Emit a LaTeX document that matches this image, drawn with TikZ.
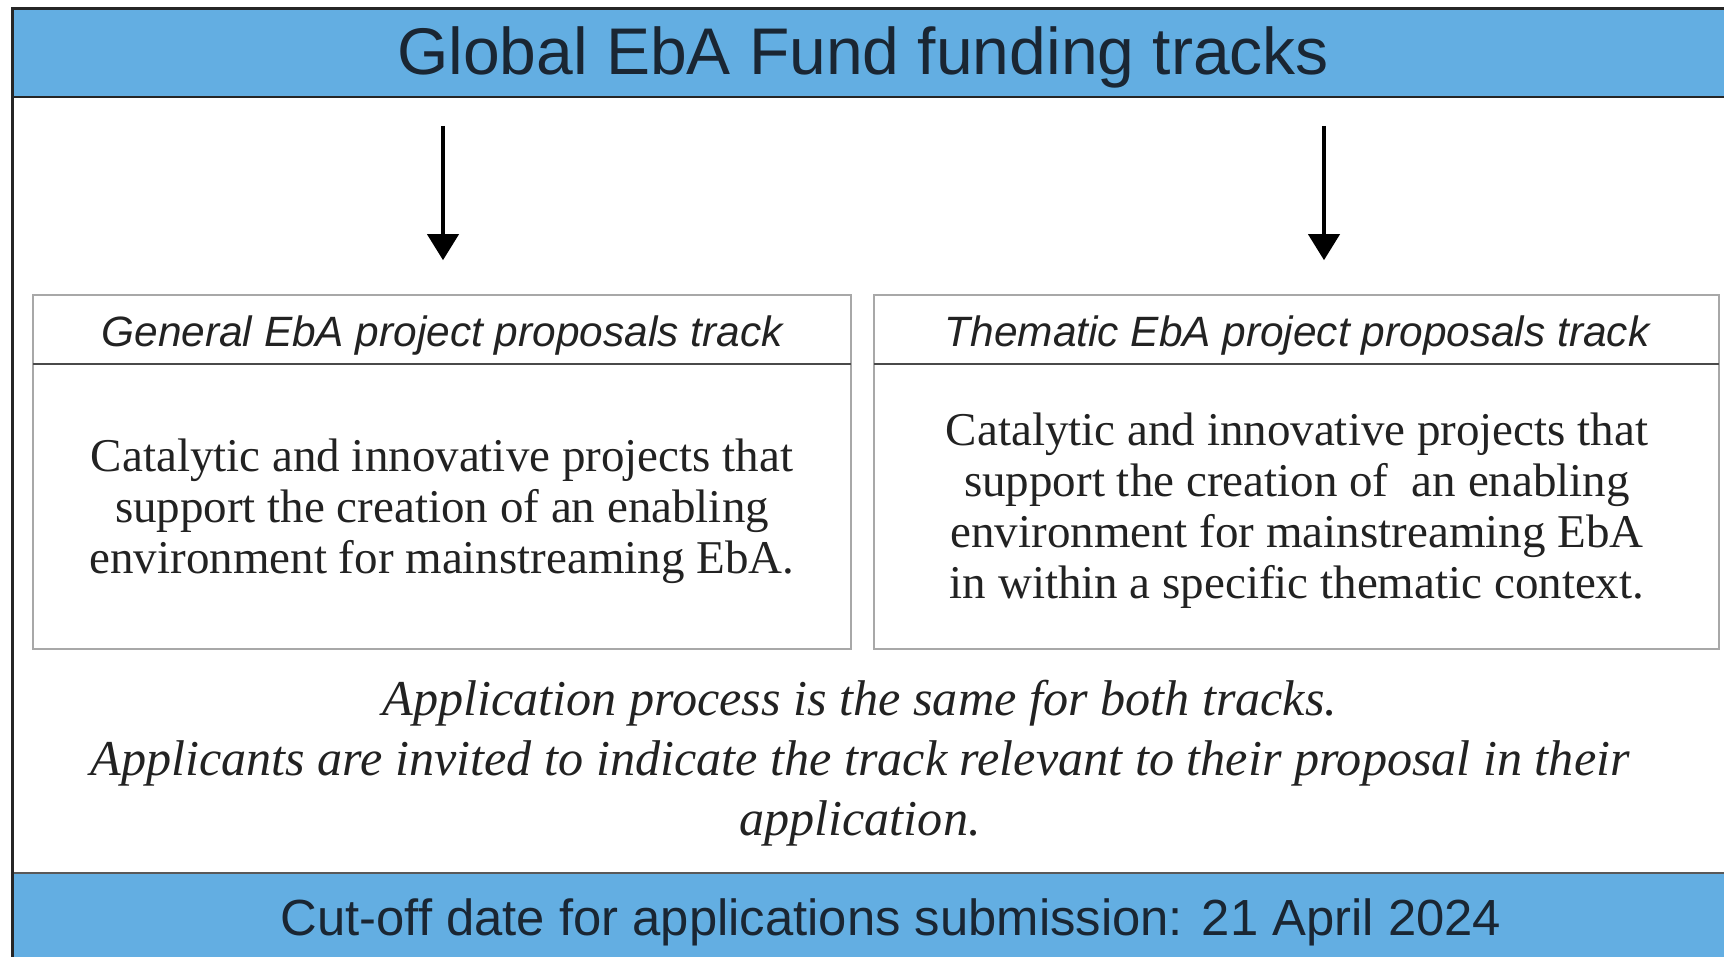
\documentclass[tikz,border=0pt]{standalone}
\usepackage{fontspec}
\setmainfont{Liberation Serif}
\newfontfamily\uisans{Liberation Sans}
\usetikzlibrary{arrows.meta}
\definecolor{bandblue}{HTML}{63AEE2}
\definecolor{bandtext}{HTML}{1A2633}
\definecolor{boxgray}{HTML}{A8A8A8}
\definecolor{divgray}{HTML}{4A4A4A}
\definecolor{bodyink}{HTML}{222222}
\tikzset{
  bandlabel/.style={inner sep=0pt, text=bandtext, font=\uisans\fontsize{33}{40}\selectfont},
  cutlabel/.style={inner sep=0pt, text=bandtext, font=\uisans\fontsize{25.4}{30}\selectfont},
  trackbox/.style={draw=boxgray, line width=0.8pt, fill=white, inner sep=0pt},
  headlabel/.style={inner sep=0pt, text=bodyink, font=\uisans\itshape\fontsize{21.2}{26}\selectfont},
  bodylabel/.style={inner sep=0pt, text=bodyink, align=center, font=\fontsize{23.5}{25.5}\selectfont},
  notelabel/.style={inner sep=0pt, text=bodyink, align=center, font=\itshape\fontsize{25.1}{30}\selectfont},
  downarrow/.style={line width=2pt, black, -{Triangle[width=15.5pt,length=13pt]}},
  divider/.style={draw=divgray, line width=1.1pt}
}
\begin{document}
\begin{tikzpicture}[x=0.5pt,y=-0.5pt]
\useasboundingbox (0,0) rectangle (1724,957);
\clip (0,0) rectangle (1724,957);
\fill[white] (0,0) rectangle (1724,957);
% bands
\fill[bandblue] (12,9) rectangle (1740,97);
\draw[line width=0.8pt, black!85] (12,97) -- (1740,97);
\fill[bandblue] (12,873) rectangle (1740,970);
\draw[line width=0.7pt, black!65] (12,873) -- (1740,873);
% outer frame
\draw[line width=1.5pt, black!85] (1740,9) -- (12,9) -- (12,970);
% title
\node[bandlabel, anchor=base] (title) at (863,75) {Global EbA Fund funding tracks};
% track boxes
\node[trackbox, minimum width=409pt, minimum height=177pt] (gen) at (442,472) {};
\node[trackbox, minimum width=422.5pt, minimum height=177pt] (thm) at (1296.5,472) {};
\draw[divider] (33,364) -- (851,364);
\draw[divider] (874,364) -- (1719,364);
% headers
\node[headlabel, anchor=base] (genh) at (442,346) {General EbA project proposals track};
\node[headlabel, anchor=base] (thmh) at (1297,346) {Thematic EbA project proposals track};
% bodies
\node[bodylabel] (genb) at (442,511) {Catalytic and innovative projects that\\support the creation of an enabling\\environment for mainstreaming EbA.};
\node[bodylabel] (thmb) at (1297,511) {Catalytic and innovative projects that\\support the creation of\ \ an enabling\\environment for mainstreaming EbA\\in within a specific thematic context.};
% arrows
\coordinate (ga) at (443,126);
\coordinate (ta) at (1324,126);
\draw[downarrow, shorten >=17pt] (ga) -- (ga |- gen.north);
\draw[downarrow, shorten >=17pt] (ta) -- (ta |- thm.north);
% note
\node[notelabel] (note) at (860,763) {Application process is the same for both tracks.\\Applicants are invited to indicate the track relevant to their proposal in their\\application.};
% cut-off
\node[cutlabel, anchor=base] (cutoff) at (891,935) {Cut-off date for applications submission: 21 April 2024};
\end{tikzpicture}
\end{document}
